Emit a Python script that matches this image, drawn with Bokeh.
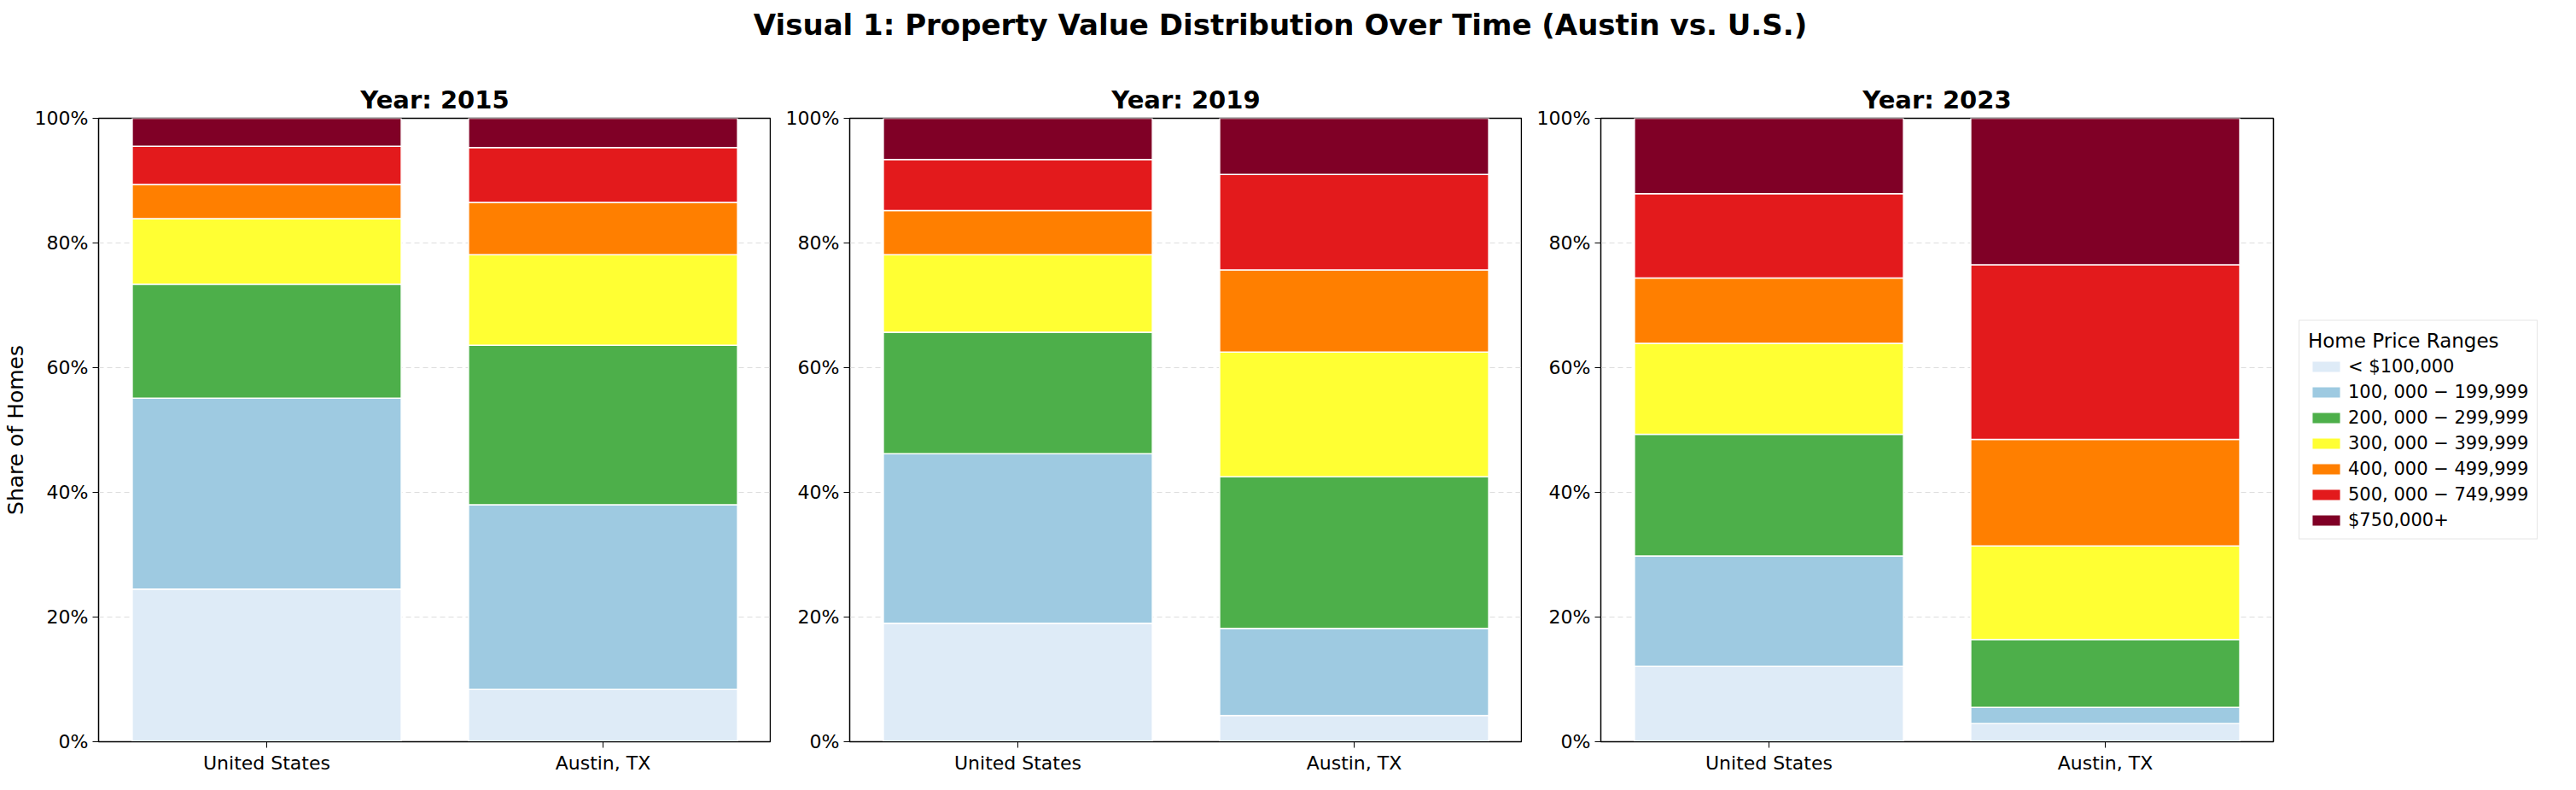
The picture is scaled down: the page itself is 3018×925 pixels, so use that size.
from bokeh.plotting import figure
from bokeh.layouts import column, row
from bokeh.models import Div, Legend, Range1d, FixedTicker, CustomJSTickFormatter
from bokeh.embed import file_html
from bokeh.resources import INLINE

regions = ["United States", "Austin, TX"]
years = ["2015", "2019", "2023"]
ranges = ["< $100,000", "100, 000 \u2212 199,999", "200, 000 \u2212 299,999",
          "300, 000 \u2212 399,999", "400, 000 \u2212 499,999", "500, 000 \u2212 749,999",
          "$750,000+"]
colors = ["#deebf7", "#9ecae1", "#4daf4a", "#ffff33", "#ff7f00", "#e31a1c", "#800026"]

# shares (%) per price range, [United States, Austin]
share_2015 = [[24.5, 8.4], [30.6, 29.6], [18.3, 25.6], [10.5, 14.5], [5.5, 8.4], [6.1, 8.8], [4.5, 4.7]]
share_2019 = [[19.0, 4.2], [27.2, 14.0], [19.5, 24.3], [12.4, 20.0], [7.1, 13.2], [8.2, 15.3], [6.6, 9.0]]
share_2023 = [[12.1, 2.9], [17.7, 2.6], [19.5, 10.9], [14.6, 15.0], [10.5, 17.1], [13.5, 28.0], [12.1, 23.5]]
shares = [share_2015, share_2019, share_2023]

FONT = "DejaVu Sans"
figs = []
for i, (yr, sh) in enumerate(zip(years, shares)):
    data = {"region": regions}
    keys = []
    for k, s in enumerate(sh):
        data["s%d" % k] = s
        keys.append("s%d" % k)
    p = figure(x_range=regions, y_range=Range1d(0, 100), frame_width=788, frame_height=730,
               output_backend="svg", toolbar_location=None, title="Year: " + yr,
               min_border_left=111 if i == 0 else 92, min_border_right=0, min_border_top=10)
    rs = p.vbar_stack(keys, x="region", width=0.8, color=colors, line_color="white",
                      line_width=1.5, source=data)
    p.x_range.range_padding = 0
    p.title.align = "center"
    p.title.text_font = FONT
    p.title.text_font_size = "29px"
    p.title.text_font_style = "bold"
    p.title.text_color = "black"
    p.outline_line_color = "black"
    p.outline_line_width = 1.5
    p.xgrid.grid_line_color = None
    p.ygrid.grid_line_color = "#dddddd"
    p.ygrid.grid_line_dash = "6 4"
    p.yaxis.ticker = FixedTicker(ticks=[0, 20, 40, 60, 80, 100])
    p.yaxis.formatter = CustomJSTickFormatter(code="return tick + '%';")
    for ax in (p.xaxis, p.yaxis):
        ax.major_label_text_font = FONT
        ax.major_label_text_font_size = "22px"
        ax.major_label_text_color = "black"
        ax.axis_line_color = "black"
        ax.major_tick_line_color = "black"
        ax.minor_tick_line_color = None
        ax.major_tick_out = 7
        ax.major_tick_in = 0
    if i == 0:
        p.yaxis.axis_label = "Share of Homes"
        p.yaxis.axis_label_text_font = FONT
        p.yaxis.axis_label_text_font_size = "25px"
        p.yaxis.axis_label_text_font_style = "normal"
        p.yaxis.axis_label_text_color = "black"
    if i == 2:
        leg = Legend(items=[(r, [g]) for r, g in zip(ranges, rs)], title="Home Price Ranges",
                     location="center_left")
        leg.title_text_font = FONT
        leg.title_text_font_size = "23px"
        leg.title_text_font_style = "normal"
        leg.title_text_color = "black"
        leg.label_text_font = FONT
        leg.label_text_font_size = "21px"
        leg.label_text_color = "black"
        leg.glyph_width = 42
        leg.glyph_height = 17
        leg.spacing = 6
        leg.border_line_color = "#cccccc"
        leg.border_line_width = 1.5
        leg.margin = 30
        p.add_layout(leg, "right")
    figs.append(p)

title = Div(text="<b>Visual 1: Property Value Distribution Over Time (Austin vs. U.S.)</b>",
            width=2990, height=82,
            styles={"text-align": "center", "font-family": FONT, "font-size": "34px"})
layout = column(title, row(*figs))
open("out.html", "w").write(file_html(layout, INLINE))
